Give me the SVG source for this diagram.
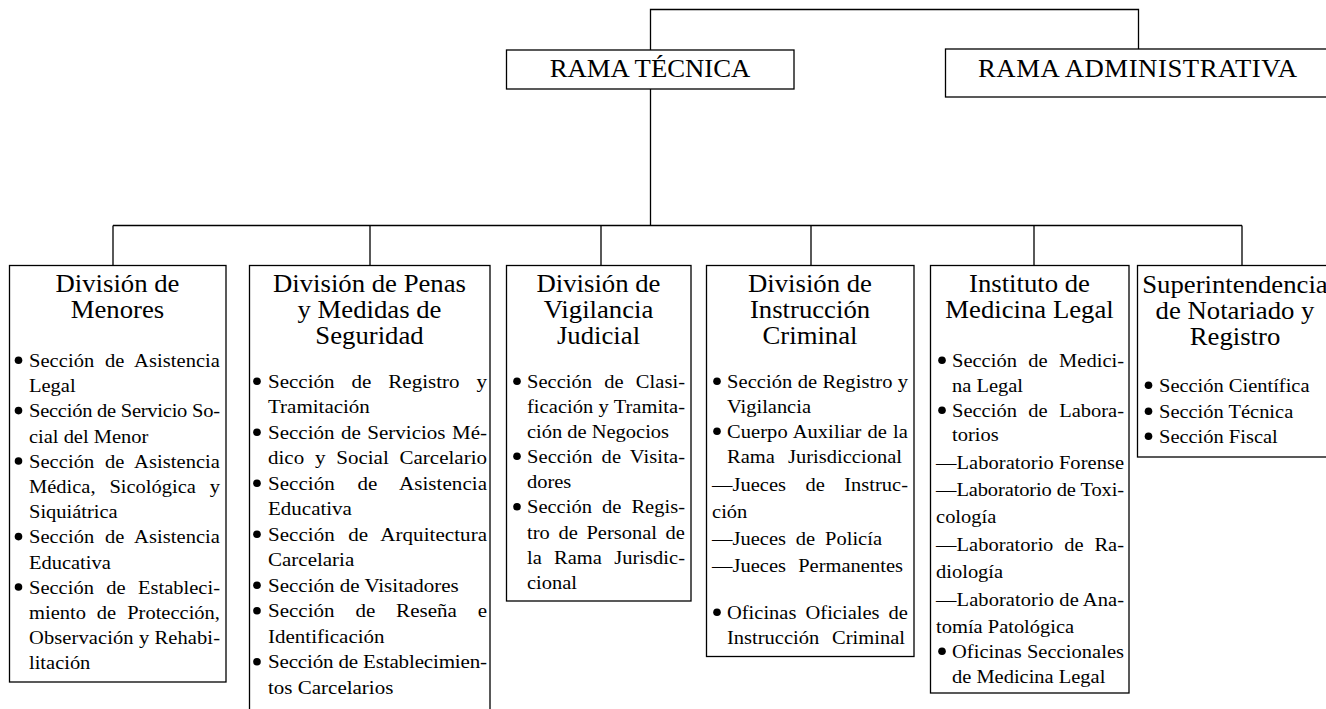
<svg xmlns="http://www.w3.org/2000/svg" width="1326" height="709" viewBox="0 0 1326 709">
<style>
.box{fill:#fff;stroke:#000;stroke-width:1.3}
.conn{fill:none;stroke:#000;stroke-width:1.3}
.h{font-family:"Liberation Serif","Times New Roman",serif;font-size:24.3px;fill:#000}
.t{font-family:"Liberation Serif","Times New Roman",serif;font-size:24.3px;text-anchor:middle;fill:#000}
.b{font-family:"Liberation Serif","Times New Roman",serif;font-size:18.6px;fill:#000}
.b2{font-size:19.1px}
.dot{fill:#000}
</style>
<rect width="1326" height="709" fill="#fff"/>

<g id="connectors" class="conn">
<path d="M650.5 50 V9.5 H1138.5 V49"/>
<path d="M650.5 89 V225.5"/>
<path d="M113 225.5 H1242"/>
<path d="M113 225.5 V265.5 M370 225.5 V265.5 M601 225.5 V265.5 M811 225.5 V265.5 M1034 225.5 V265.5 M1242 225.5 V265.5"/>
</g>

<g id="rama-tecnica">
<rect class="box" x="506.5" y="50" width="287.5" height="39"/>
<text class="t" transform="translate(650 77) scale(1.1 1)">RAMA TÉCNICA</text>
</g>

<g id="rama-administrativa">
<rect class="box" x="945.5" y="49" width="400" height="48"/>
<text class="h" transform="translate(978 77) scale(1.1 1)" textLength="290">RAMA ADMINISTRATIVA</text>
</g>

<g id="division-menores">
<rect class="box" x="9.5" y="265.5" width="216.5" height="416.5"/>
<text class="t" transform="translate(117.5 292) scale(1.1 1)">División de</text>
<text class="t" transform="translate(117.5 317.7) scale(1.1 1)">Menores</text>
<circle class="dot" cx="18.5" cy="360.2" r="3.8"/>
<circle class="dot" cx="18.5" cy="410.6" r="3.8"/>
<circle class="dot" cx="18.5" cy="461" r="3.8"/>
<circle class="dot" cx="18.5" cy="536.6" r="3.8"/>
<circle class="dot" cx="18.5" cy="587" r="3.8"/>
<g transform="translate(29 0) scale(1.1 1)">
<text class="b" x="0" y="367" textLength="173.6" word-spacing="5">Sección de Asistencia</text>
<text class="b" x="0" y="392.2">Legal</text>
<text class="b" x="0" y="417.4" textLength="173.6">Sección de Servicio So-</text>
<text class="b" x="0" y="442.6">cial del Menor</text>
<text class="b" x="0" y="467.8" textLength="173.6" word-spacing="5">Sección de Asistencia</text>
<text class="b" x="0" y="493" textLength="173.6" word-spacing="7.9">Médica, Sicológica y</text>
<text class="b" x="0" y="518.2">Siquiátrica</text>
<text class="b" x="0" y="543.4" textLength="173.6" word-spacing="5">Sección de Asistencia</text>
<text class="b" x="0" y="568.6">Educativa</text>
<text class="b" x="0" y="593.8" textLength="173.6" word-spacing="6.6">Sección de Estableci-</text>
<text class="b" x="0" y="619" textLength="173.6" word-spacing="5.3">miento de Protección,</text>
<text class="b" x="0" y="644.2" textLength="173.6">Observación y Rehabi-</text>
<text class="b" x="0" y="669.4">litación</text>
</g>
</g>

<g id="division-penas">
<rect class="box" x="249.5" y="265.5" width="240.5" height="460"/>
<text class="t" transform="translate(369.5 292) scale(1.1 1)">División de Penas</text>
<text class="t" transform="translate(369.5 318) scale(1.1 1)">y Medidas de</text>
<text class="t" transform="translate(369.5 344) scale(1.1 1)">Seguridad</text>
<circle class="dot" cx="257" cy="381.2" r="3.8"/>
<circle class="dot" cx="257" cy="432.2" r="3.8"/>
<circle class="dot" cx="257" cy="483.2" r="3.8"/>
<circle class="dot" cx="257" cy="534.2" r="3.8"/>
<circle class="dot" cx="257" cy="585.2" r="3.8"/>
<circle class="dot" cx="257" cy="610.7" r="3.8"/>
<circle class="dot" cx="257" cy="661.7" r="3.8"/>
<g transform="translate(268 0) scale(1.1 1)">
<text class="b b2" x="0" y="388" textLength="199.1" word-spacing="10.7">Sección de Registro y</text>
<text class="b b2" x="0" y="413.5">Tramitación</text>
<text class="b b2" x="0" y="439" textLength="199.1" word-spacing="1.1">Sección de Servicios Mé-</text>
<text class="b b2" x="0" y="464.5" textLength="199.1" word-spacing="5">dico y Social Carcelario</text>
<text class="b b2" x="0" y="490" textLength="199.1" word-spacing="15.8">Sección de Asistencia</text>
<text class="b b2" x="0" y="515.5">Educativa</text>
<text class="b b2" x="0" y="541" textLength="199.1" word-spacing="7.3">Sección de Arquitectura</text>
<text class="b b2" x="0" y="566.5">Carcelaria</text>
<text class="b b2" x="0" y="592">Sección de Visitadores</text>
<text class="b b2" x="0" y="617.5" textLength="199.1" word-spacing="14.2">Sección de Reseña e</text>
<text class="b b2" x="0" y="643">Identificación</text>
<text class="b b2" x="0" y="668.5" textLength="199.1">Sección de Establecimien-</text>
<text class="b b2" x="0" y="694">tos Carcelarios</text>
</g>
</g>

<g id="division-vigilancia">
<rect class="box" x="506.5" y="265.5" width="184.5" height="335.5"/>
<text class="t" transform="translate(598.5 292) scale(1.1 1)">División de</text>
<text class="t" transform="translate(598.5 318) scale(1.1 1)">Vigilancia</text>
<text class="t" transform="translate(598.5 344) scale(1.1 1)">Judicial</text>
<circle class="dot" cx="517" cy="381.2" r="3.8"/>
<circle class="dot" cx="517" cy="456.2" r="3.8"/>
<circle class="dot" cx="517" cy="506.7" r="3.8"/>
<g transform="translate(527 0) scale(1.1 1)">
<text class="b" x="0" y="388" textLength="143.6" word-spacing="6.4">Sección de Clasi-</text>
<text class="b" x="0" y="413" textLength="143.6">ficación y Tramita-</text>
<text class="b" x="0" y="438">ción de Negocios</text>
<text class="b" x="0" y="463" textLength="143.6" word-spacing="3.5">Sección de Visita-</text>
<text class="b" x="0" y="488">dores</text>
<text class="b" x="0" y="513.5" textLength="143.6" word-spacing="4.5">Sección de Regis-</text>
<text class="b" x="0" y="538.6" textLength="143.6" word-spacing="3.2">tro de Personal de</text>
<text class="b" x="0" y="563.7" textLength="143.6" word-spacing="6.4">la Rama Jurisdic-</text>
<text class="b" x="0" y="588.8">cional</text>
</g>
</g>

<g id="division-instruccion">
<rect class="box" x="706.5" y="265.5" width="207.5" height="391"/>
<text class="t" transform="translate(810 292) scale(1.1 1)">División de</text>
<text class="t" transform="translate(810 318) scale(1.1 1)">Instrucción</text>
<text class="t" transform="translate(810 344) scale(1.1 1)">Criminal</text>
<circle class="dot" cx="717" cy="381.2" r="3.8"/>
<circle class="dot" cx="717" cy="431.2" r="3.8"/>
<circle class="dot" cx="717" cy="612.2" r="3.8"/>
<g transform="translate(727 0) scale(1.1 1)">
<text class="b" x="0" y="388" textLength="164.5">Sección de Registro y</text>
<text class="b" x="0" y="413">Vigilancia</text>
<text class="b" x="0" y="438" textLength="164.5" word-spacing="0.8">Cuerpo Auxiliar de la</text>
<text class="b" x="0" y="463" textLength="159.1" word-spacing="7.3">Rama Jurisdiccional</text>
<text class="b" x="-13.6" y="491" textLength="178.2" word-spacing="13">—Jueces de Instruc-</text>
<text class="b" x="-13.6" y="518">ción</text>
<text class="b" x="-13.6" y="545" textLength="154.5" word-spacing="4.3">—Jueces de Policía</text>
<text class="b" x="-13.6" y="572" textLength="173.6" word-spacing="6.4">—Jueces Permanentes</text>
<text class="b" x="0" y="619" textLength="164.5" word-spacing="3.6">Oficinas Oficiales de</text>
<text class="b" x="0" y="644" textLength="161.8" word-spacing="7">Instrucción Criminal</text>
</g>
</g>

<g id="instituto-medicina-legal">
<rect class="box" x="930.5" y="265.5" width="198.5" height="427.5"/>
<text class="t" transform="translate(1029.5 292) scale(1.1 1)">Instituto de</text>
<text class="t" transform="translate(1029.5 317.7) scale(1.1 1)">Medicina Legal</text>
<circle class="dot" cx="942" cy="360.2" r="3.8"/>
<circle class="dot" cx="942" cy="410.2" r="3.8"/>
<circle class="dot" cx="942" cy="651.2" r="3.8"/>
<g transform="translate(952 0) scale(1.1 1)">
<text class="b" x="0" y="367" textLength="156.4" word-spacing="5.7">Sección de Medici-</text>
<text class="b" x="0" y="392">na Legal</text>
<text class="b" x="0" y="417" textLength="156.4" word-spacing="5.7">Sección de Labora-</text>
<text class="b" x="0" y="441.5">torios</text>
<text class="b" x="-14.5" y="469" textLength="170.9">—Laboratorio Forense</text>
<text class="b" x="-14.5" y="496" textLength="170.9">—Laboratorio de Toxi-</text>
<text class="b" x="-14.5" y="523">cología</text>
<text class="b" x="-14.5" y="551" textLength="170.9" word-spacing="5.2">—Laboratorio de Ra-</text>
<text class="b" x="-14.5" y="578">diología</text>
<text class="b" x="-14.5" y="606" textLength="170.9">—Laboratorio de Ana-</text>
<text class="b" x="-14.5" y="633">tomía Patológica</text>
<text class="b" x="0" y="658" textLength="156.4">Oficinas Seccionales</text>
<text class="b" x="0" y="683">de Medicina Legal</text>
</g>
</g>

<g id="superintendencia">
<rect class="box" x="1137.5" y="265.5" width="210" height="191.5"/>
<text class="t" transform="translate(1235 292.5) scale(1.1 1)">Superintendencia</text>
<text class="t" transform="translate(1235 318.5) scale(1.1 1)">de Notariado y</text>
<text class="t" transform="translate(1235 344.5) scale(1.1 1)">Registro</text>
<circle class="dot" cx="1148.5" cy="385.2" r="3.8"/>
<circle class="dot" cx="1148.5" cy="411.2" r="3.8"/>
<circle class="dot" cx="1148.5" cy="436.2" r="3.8"/>
<g transform="translate(1159 0) scale(1.1 1)">
<text class="b" x="0" y="392">Sección Científica</text>
<text class="b" x="0" y="418">Sección Técnica</text>
<text class="b" x="0" y="443">Sección Fiscal</text>
</g>
</g>
</svg>
